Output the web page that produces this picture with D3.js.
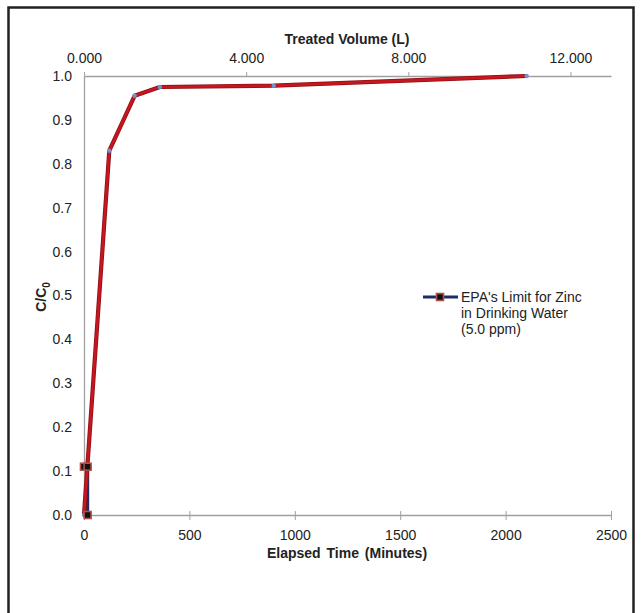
<!DOCTYPE html>
<html>
<head>
<meta charset="utf-8">
<script src="https://cdn.jsdelivr.net/npm/d3@7/dist/d3.min.js"></script>
<style>
  html, body { margin: 0; padding: 0; background: #fff; }
  svg { display: block; font-family: Arial, "Liberation Sans", sans-serif; }
</style>
</head>
<body>
<svg id="chart" width="641" height="613"></svg>
<script>
// Breakthrough curve: elapsed time (min) vs C/C0
const elapsedMinutes = [0, 120, 240, 360, 900, 2100];
const concentrationRatio = [0, 0.83, 0.955, 0.975, 0.978, 1.0];

// EPA zinc limit marker series
const epaMinutes = [0, 17, 17];
const epaRatio = [0.11, 0.11, 0];

// Axis ticks
const timeTicks = [0, 500, 1000, 1500, 2000, 2500];
const volumeTicks = [0, 4, 8, 12];
const ratioTicks = [0, 0.1, 0.2, 0.3, 0.4, 0.5, 0.6, 0.7, 0.8, 0.9, 1.0];

const legendLines = ["EPA's Limit for Zinc", "in Drinking Water", "(5.0 ppm)"];

const svg = d3.select("#chart");

// outer frame
svg.append("rect")
  .attr("x", 8.5).attr("y", 7.5)
  .attr("width", 625).attr("height", 620)
  .attr("fill", "#fff")
  .attr("stroke", "#222").attr("stroke-width", 2.5);

const x = d3.scaleLinear().domain([0, 2500]).range([84, 611]);
const xTop = d3.scaleLinear().domain([0, 13]).range([84, 611]);
const y = d3.scaleLinear().domain([0, 1]).range([515, 76]);

const axisColor = "#a0a0a0";
const textColor = "#222";

// bottom axis (ticks crossing the line)
const gB = svg.append("g").attr("transform", `translate(0,${y(0)})`)
  .call(d3.axisBottom(x).tickValues(timeTicks).tickFormat(d3.format("d"))
    .tickSizeInner(4).tickSizeOuter(0).tickPadding(11));
gB.select(".domain").attr("stroke", axisColor).attr("stroke-width", 1.3);
gB.selectAll(".tick line").attr("stroke", axisColor).attr("y1", -4).attr("y2", 5);
gB.selectAll(".tick text").attr("fill", textColor).attr("font-size", 14)
  .attr("font-family", "Arial, 'Liberation Sans', sans-serif");

// top axis: treated volume
const gT = svg.append("g").attr("transform", `translate(0,${y(1)})`)
  .call(d3.axisTop(xTop).tickValues(volumeTicks).tickFormat(d3.format(".3f"))
    .tickSizeInner(4).tickSizeOuter(0).tickPadding(9));
gT.select(".domain").attr("stroke", axisColor).attr("stroke-width", 1.3);
gT.selectAll(".tick line").attr("stroke", axisColor);
gT.selectAll(".tick text").attr("fill", textColor).attr("font-size", 14)
  .attr("font-family", "Arial, 'Liberation Sans', sans-serif");

// left axis
const gL = svg.append("g").attr("transform", `translate(${x(0)},0)`)
  .call(d3.axisLeft(y).tickValues(ratioTicks).tickFormat(d3.format(".1f"))
    .tickSize(0).tickPadding(12));
gL.select(".domain").attr("stroke", axisColor).attr("stroke-width", 1.3);
gL.selectAll(".tick text").attr("fill", textColor).attr("font-size", 14)
  .attr("font-family", "Arial, 'Liberation Sans', sans-serif");

// axis titles
svg.append("text")
  .attr("x", 347).attr("y", 44)
  .attr("text-anchor", "middle")
  .attr("font-size", 14).attr("font-weight", "bold").attr("fill", textColor)
  .text("Treated Volume (L)");

svg.append("text")
  .attr("x", 347).attr("y", 558)
  .attr("text-anchor", "middle")
  .attr("font-size", 14).attr("font-weight", "bold").attr("fill", textColor)
  .attr("word-spacing", 2)
  .text("Elapsed Time (Minutes)");

const yTitle = svg.append("text")
  .attr("transform", "translate(46,297) rotate(-90)")
  .attr("text-anchor", "middle")
  .attr("font-size", 14).attr("font-weight", "bold").attr("fill", textColor);
yTitle.append("tspan").text("C/C");
yTitle.append("tspan").attr("font-size", 10).attr("dy", 4).text("0");

// EPA limit series line
const epaData = epaMinutes.map((m, i) => ({ m, r: epaRatio[i] }));
const line = d3.line().x(d => x(d.m)).y(d => y(d.r));
svg.append("path")
  .datum(epaData)
  .attr("d", line)
  .attr("fill", "none")
  .attr("stroke", "#1b2f66").attr("stroke-width", 3.2);

// breakthrough curve
const curveData = elapsedMinutes.map((m, i) => ({ m, r: concentrationRatio[i] }));
svg.append("path")
  .datum(curveData)
  .attr("d", line)
  .attr("fill", "none")
  .attr("stroke", "#8e1016").attr("stroke-width", 4.2)
  .attr("stroke-linejoin", "round");
svg.append("path")
  .datum(curveData)
  .attr("d", line)
  .attr("fill", "none")
  .attr("stroke", "#c8161e").attr("stroke-width", 2.6)
  .attr("stroke-linejoin", "round");

// curve point markers
svg.selectAll("circle.pt")
  .data(curveData)
  .enter().append("circle")
  .attr("class", "pt")
  .attr("cx", d => x(d.m)).attr("cy", d => y(d.r))
  .attr("r", 2.2)
  .attr("fill", "#6f95cf");

// EPA square markers
const sq = 7;
svg.selectAll("rect.epa")
  .data(epaData)
  .enter().append("rect")
  .attr("class", "epa")
  .attr("x", d => x(d.m) - sq / 2).attr("y", d => y(d.r) - sq / 2)
  .attr("width", sq).attr("height", sq)
  .attr("fill", "#111")
  .attr("stroke", "#b0504a").attr("stroke-width", 1.6);

// legend
const lg = svg.append("g");
const ly = 297;
lg.append("line")
  .attr("x1", 423).attr("x2", 458).attr("y1", ly).attr("y2", ly)
  .attr("stroke", "#1b2f66").attr("stroke-width", 3.2);
lg.append("rect")
  .attr("x", 440 - sq / 2).attr("y", ly - sq / 2)
  .attr("width", sq).attr("height", sq)
  .attr("fill", "#111")
  .attr("stroke", "#b0504a").attr("stroke-width", 1.6);
lg.selectAll("text")
  .data(legendLines)
  .enter().append("text")
  .attr("x", 461)
  .attr("y", (d, i) => ly + 5 + i * 16)
  .attr("font-size", 14).attr("fill", textColor)
  .text(d => d);
</script>
</body>
</html>
